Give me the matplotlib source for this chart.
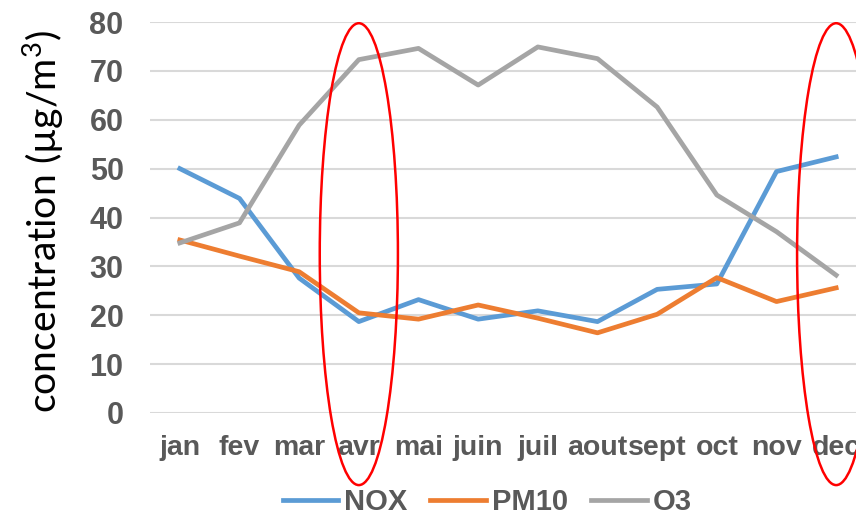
import numpy as np
import matplotlib
matplotlib.use("Agg")
import matplotlib.pyplot as plt
from matplotlib.patches import Ellipse

months = ['jan', 'fev', 'mar', 'avr', 'mai', 'juin', 'juil', 'aout',
          'sept', 'oct', 'nov', 'dec']
nox  = [50.0, 43.9, 27.6, 18.7, 23.2, 19.2, 20.9, 18.7, 25.3, 26.4, 49.4, 52.4]
pm10 = [35.4, 32.1, 28.9, 20.5, 19.2, 22.1, 19.4, 16.4, 20.2, 27.7, 22.8, 25.6]
o3   = [34.8, 38.9, 58.9, 72.3, 74.6, 67.1, 74.9, 72.5, 62.6, 44.6, 37.1, 28.2]
yticks = [0, 10, 20, 30, 40, 50, 60, 70, 80]
circled = ['avr', 'dec']

plt.rcParams['font.family'] = ['Liberation Sans', 'DejaVu Sans']
plt.rcParams['mathtext.fontset'] = 'custom'
plt.rcParams['mathtext.rm'] = 'Lato'
plt.rcParams['mathtext.it'] = 'Lato'

W, H = 856, 515
fig = plt.figure(figsize=(W / 100, H / 100), dpi=100)
# plot area runs a bit past the right edge of the picture
ax = fig.add_axes([150 / W, (H - 413) / H, (866 - 150) / W, (413 - 22) / H])

x = np.arange(len(months))
ax.plot(x, nox, color='#5B9BD5', lw=3.4, label='NOX', solid_joinstyle='round')
ax.plot(x, pm10, color='#ED7D31', lw=3.4, label='PM10', solid_joinstyle='round')
ax.plot(x, o3, color='#A5A5A5', lw=3.4, label='O3', solid_joinstyle='round')

ax.set_xlim(-0.5, len(months) - 0.5)
ax.set_ylim(0, 80)
ax.set_yticks(yticks)
ax.set_xticks(x)
ax.set_xticklabels(months)
ax.grid(axis='y', color='#D9D9D9', lw=1.5)
ax.set_axisbelow(True)
for s in ax.spines.values():
    s.set_visible(False)
ax.tick_params(length=0, labelcolor='#595959')
ax.tick_params(axis='y', pad=19, labelsize=22)
ax.tick_params(axis='x', pad=16, labelsize=20.5)
for lab in ax.get_xticklabels() + ax.get_yticklabels():
    lab.set_fontweight('bold')

# red ellipses around the highlighted months
for m in circled:
    i = months.index(m)
    e = Ellipse((i, 32.5), 1.31, 94.5, fill=False, edgecolor='#FF0000',
                lw=1.8, clip_on=False, zorder=5)
    ax.add_patch(e)

fig.text(43 / W, 1 - 222 / H, r'concentration (µg/m$^{3}$)', rotation=90,
         ha='center', va='center', fontsize=28.2, family='Lato', color='black')

leg = fig.legend(loc='center', bbox_to_anchor=(487 / W, 1 - 502 / H), ncol=3,
                 frameon=False, handlelength=1.9, handletextpad=0.2,
                 columnspacing=0.8, prop={'weight': 'bold', 'size': 21})
for t in leg.get_texts():
    t.set_color('#595959')

fig.savefig('out.png', dpi=100)
